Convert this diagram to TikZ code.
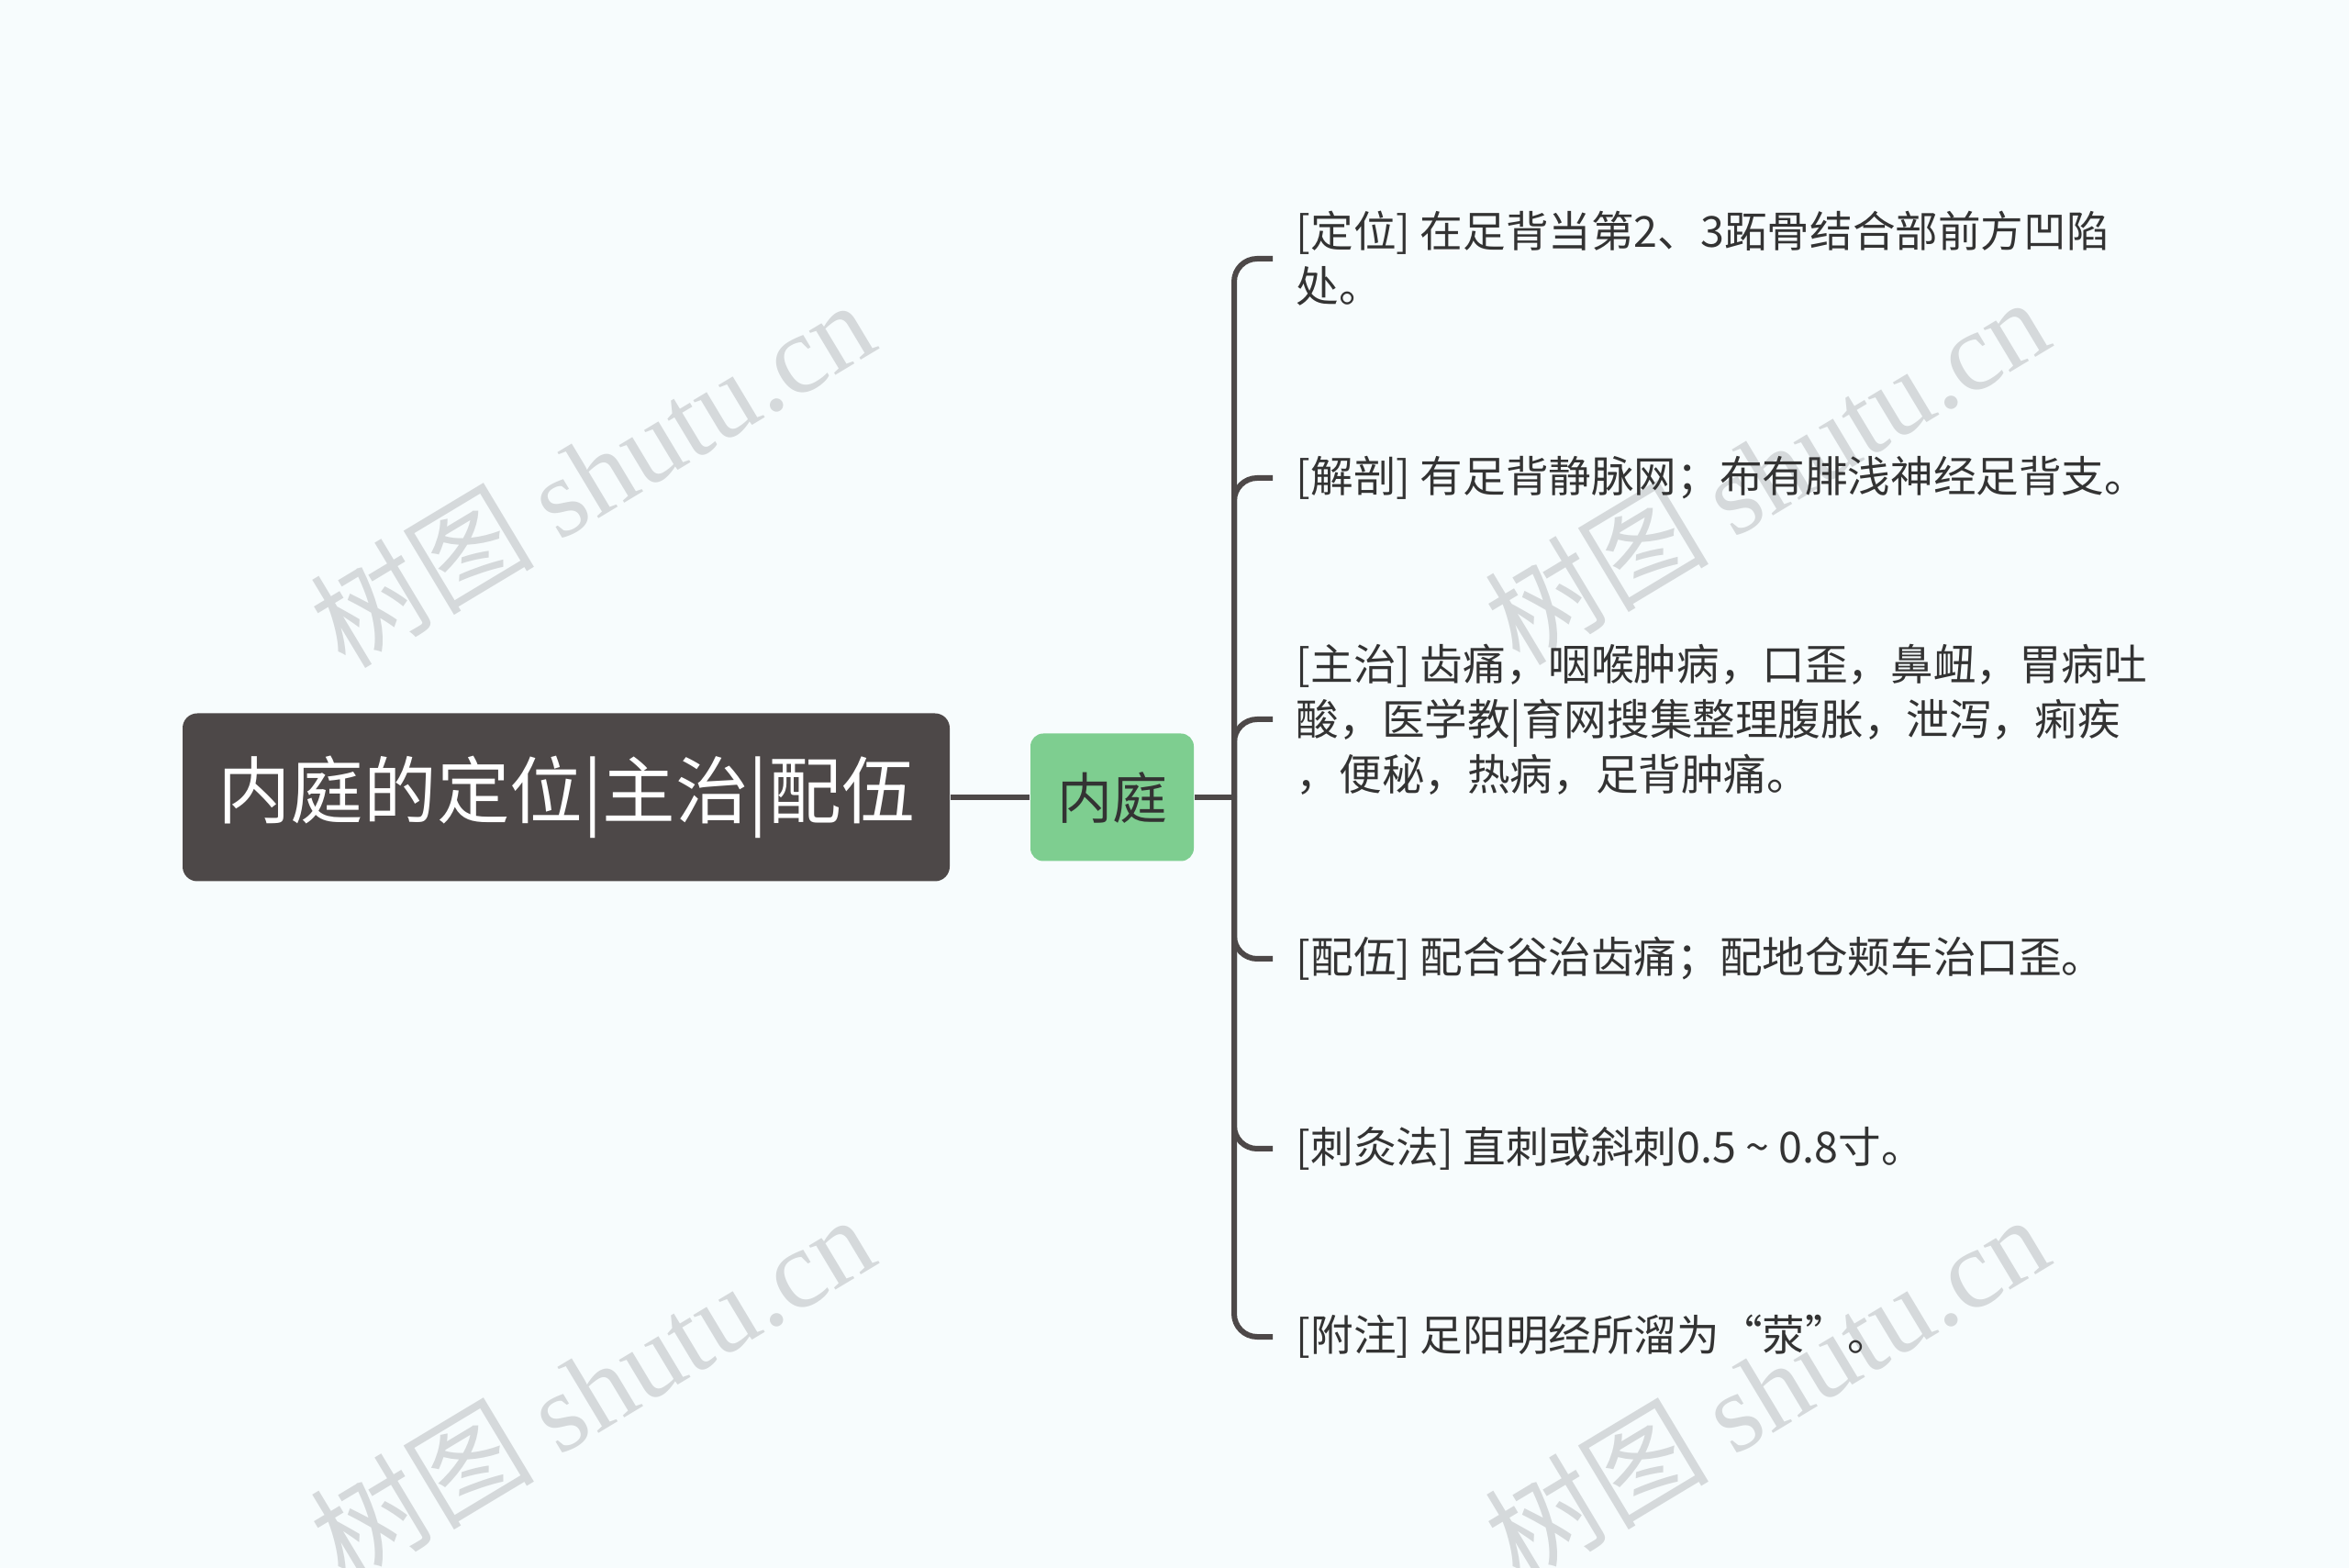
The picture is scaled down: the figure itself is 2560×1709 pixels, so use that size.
\documentclass[tikz,border=0pt]{standalone}
\usepackage{fontspec}
\setmainfont{Noto Sans CJK SC}
\newfontfamily\wmfont{Liberation Serif}
\definecolor{bgcol}{HTML}{F7FCFD}
\definecolor{darkcol}{HTML}{4D4848}
\definecolor{hubcol}{HTML}{7ECE90}
\definecolor{textcol}{HTML}{333333}
\definecolor{wmcol}{HTML}{D5D9DB}
\begin{document}
\begin{tikzpicture}[x=0.25pt,y=0.25pt]
\tikzstyle{every node}+=[inner sep=0pt]
\tikzstyle{rootbox}=[fill=darkcol,rounded corners=4pt,text=white,minimum width=209pt,minimum height=45.75pt,font=\fontsize{19.9pt}{19.9pt}\selectfont]
\tikzstyle{hubbox}=[fill=hubcol,rounded corners=3.5pt,text=textcol,minimum width=44.5pt,minimum height=34.75pt,font=\fontsize{15pt}{15pt}\selectfont]
\tikzstyle{leaf}=[anchor=west,inner xsep=6.25pt,align=left,text=textcol,font=\fontsize{11.65pt}{15pt}\selectfont]
\tikzstyle{wire}=[draw=darkcol,line width=1.5pt]
\tikzstyle{wmark}=[text=wmcol,rotate=31,font=\fontsize{30.5pt}{30.5pt}\selectfont]
\useasboundingbox[fill=bgcol] (0,0) rectangle (2560,-1709);
\node[wmark] (wm1) at (645,-515) {树图 {\wmfont shutu.cn}};
\node[wmark] (wm2) at (1925,-512) {树图 {\wmfont shutu.cn}};
\node[wmark] (wm3) at (645,-1512) {树图 {\wmfont shutu.cn}};
\node[wmark] (wm4) at (1925,-1512) {树图 {\wmfont shutu.cn}};
\node[rootbox] (root) at (617,-869) {内庭的定位|主治|配伍};
\node[hubbox] (hub) at (1212,-869) {内庭};
\coordinate (bus) at (1345,-869);
\node[leaf] (dingwei) at (1387,-282) {[定位] 在足背当第2、3跖骨结合部前方凹陷\\处。};
\node[leaf] (jiepou) at (1387,-521) {[解剖] 有足背静脉网；布有腓浅神经足背支。};
\node[leaf] (zhuzhi) at (1387,-784) {[主治] 齿痛，咽喉肿病，口歪，鼻衄，胃病吐\\酸，医学教|育网搜集整理腹胀，泄泻，痢疾\\，便秘，热病，足背肿痛。};
\node[leaf] (peiwu) at (1387,-1045) {[配伍] 配合谷治齿痛；配地仓颊车治口歪。};
\node[leaf] (cijiu) at (1387,-1252) {[刺灸法] 直刺或斜刺0.5 \textasciitilde{} 0.8寸。};
\node[leaf] (fuzhu) at (1387,-1457) {[附注] 足阳明经所溜为“荥”。};
\draw[wire] (root) -- (hub);
\draw[wire] (hub) -- (bus);
\foreach \n in {dingwei,jiepou,zhuzhi,peiwu,cijiu,fuzhu}
  \draw[wire,rounded corners=6.25pt] (bus) |- (\n.west);
\end{tikzpicture}
\end{document}
